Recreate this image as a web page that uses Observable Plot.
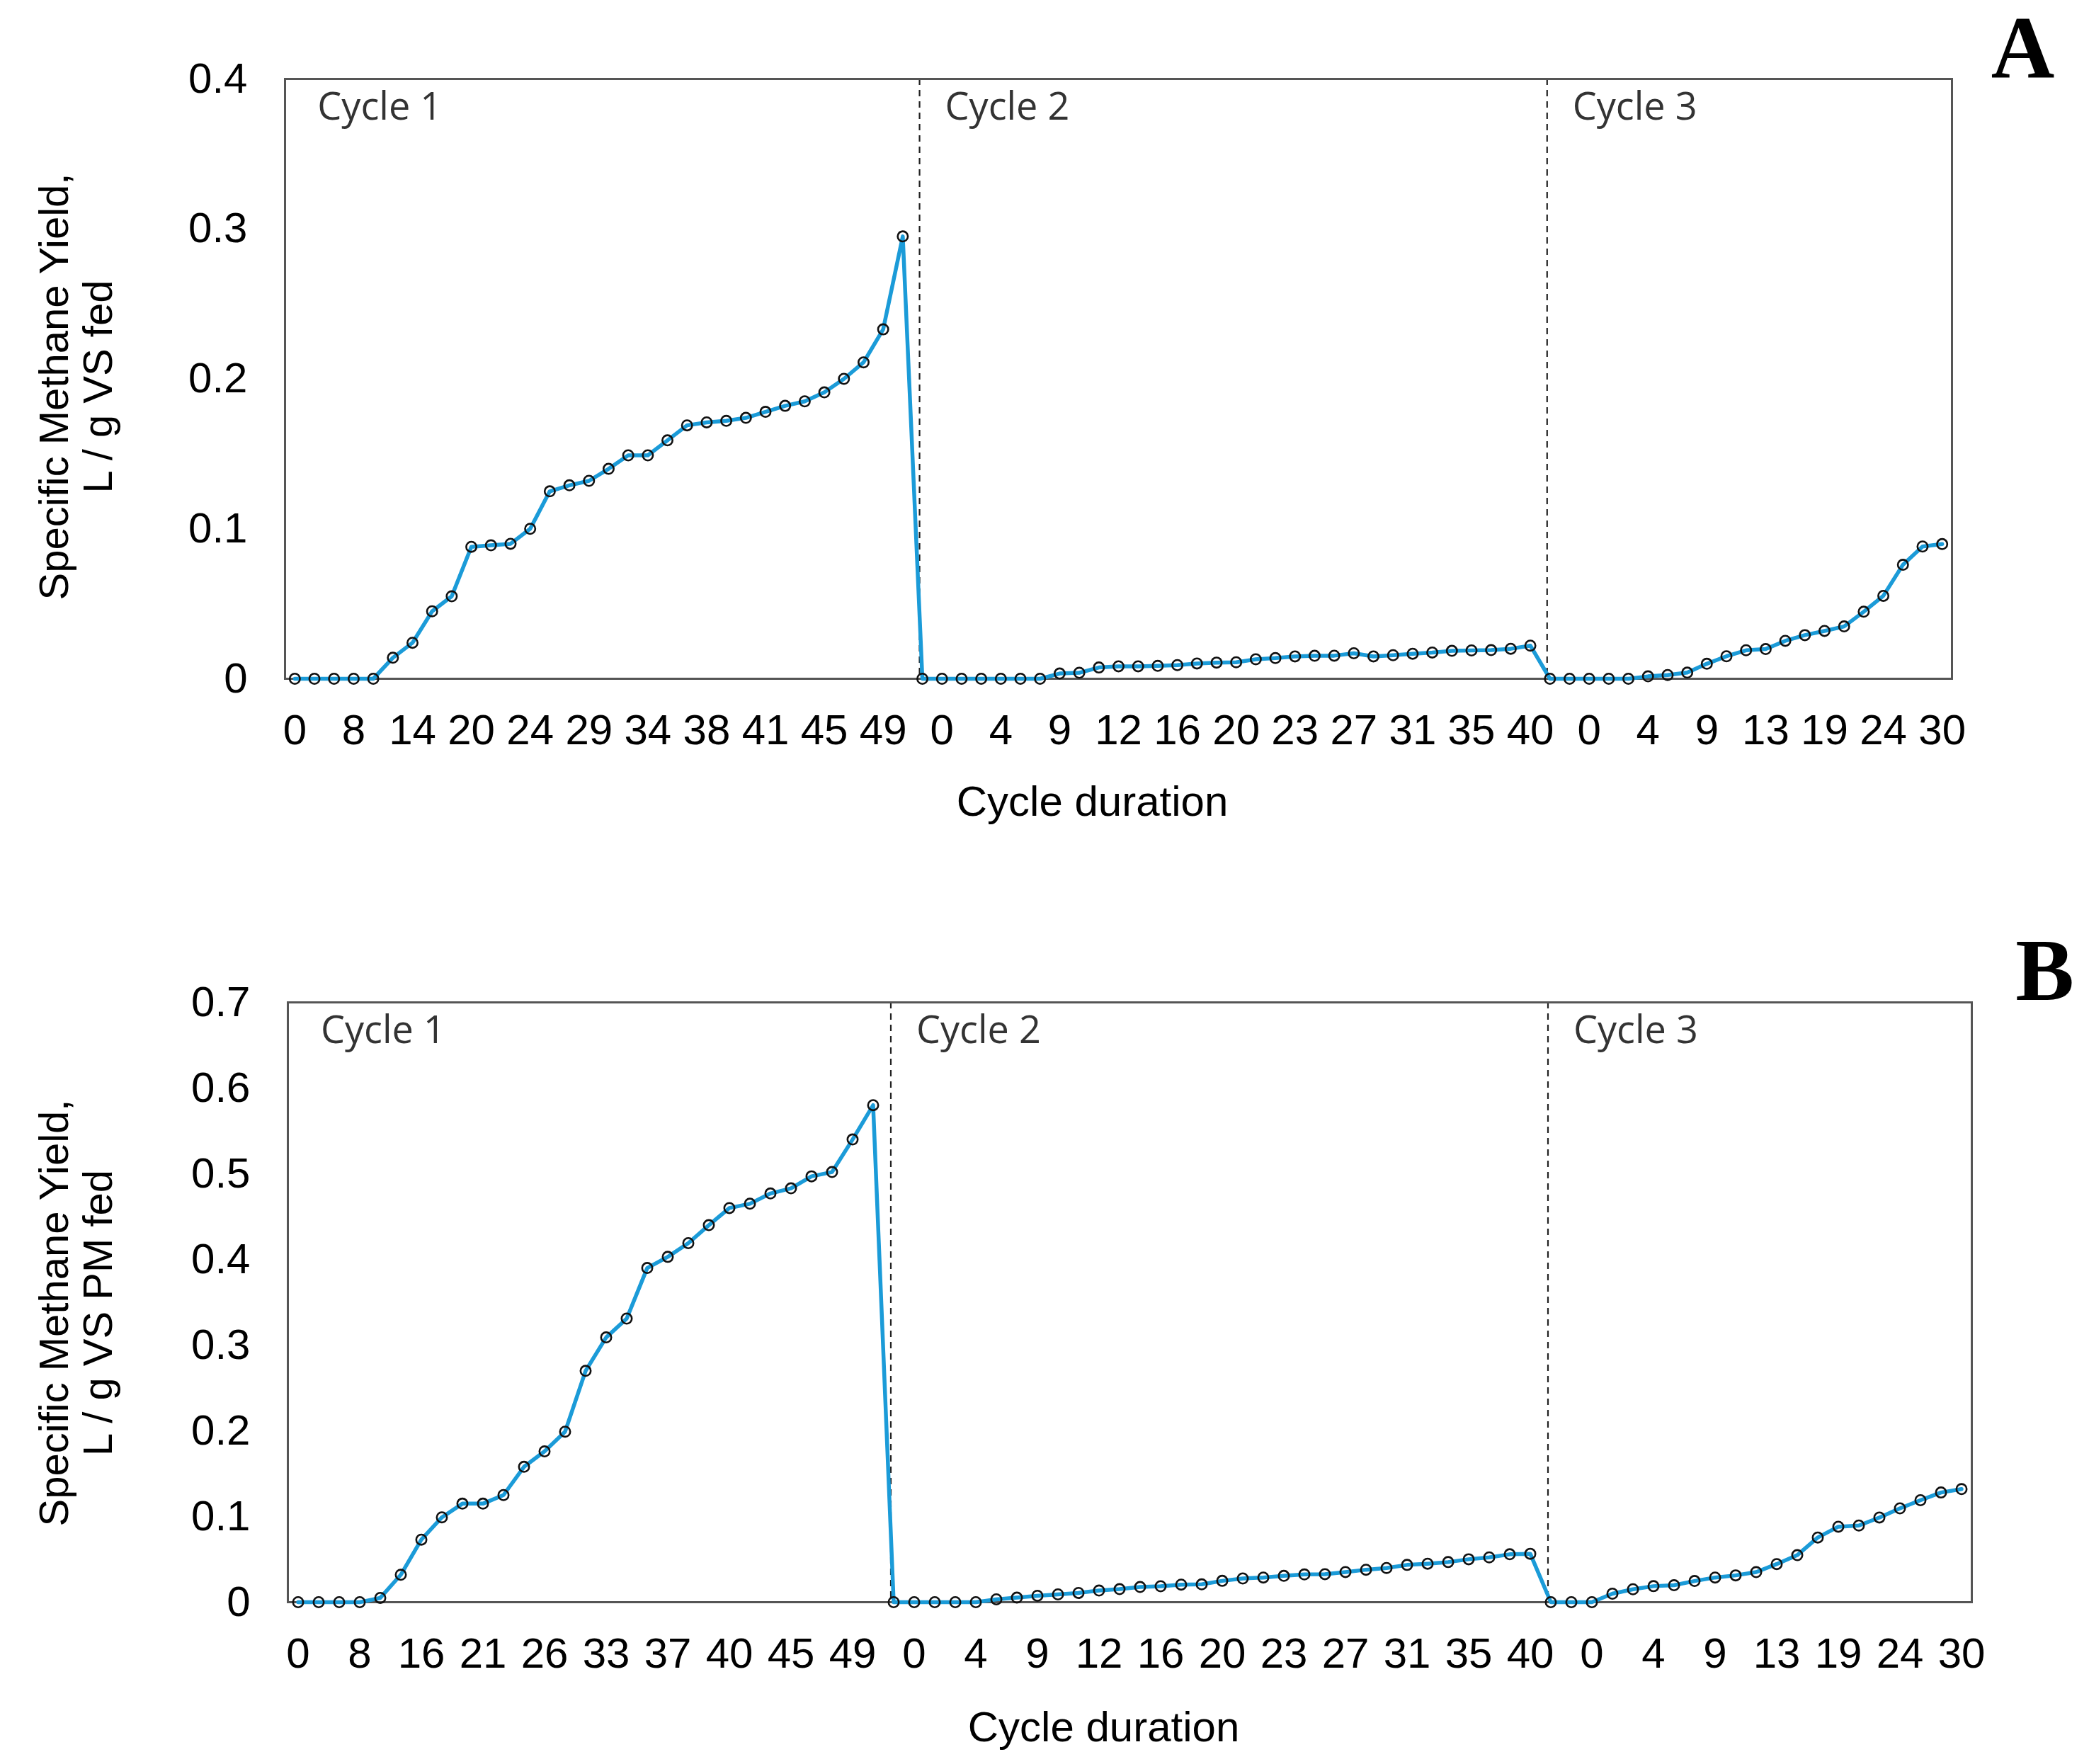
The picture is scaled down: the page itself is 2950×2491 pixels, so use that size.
<!DOCTYPE html>
<html><head><meta charset="utf-8">
<script src="https://cdn.jsdelivr.net/npm/d3@7"></script>
<script src="https://cdn.jsdelivr.net/npm/@observablehq/plot@0.6"></script>
<style>
body{margin:0;background:#fff;}
#wrap{position:relative;width:2950px;height:2491px;background:#fff;overflow:hidden;}
.panel{position:absolute;left:0;}
</style></head><body><div id="wrap"></div>
<script>
// ---------- Panel A data (L / g VS fed) ----------
const cycleNames = ["Cycle 1", "Cycle 2", "Cycle 3"];
const a1 = [0,0,0,0,0,0.014,0.024,0.045,0.055,0.088,0.089,0.090,0.100,0.125,0.129,0.132,0.140,0.149,0.149,0.159,0.169,0.171,0.172,0.174,0.178,0.182,0.185,0.191,0.200,0.211,0.233,0.295];
const a2 = [0,0,0,0,0,0,0,0.0035,0.004,0.0075,0.0083,0.0083,0.0086,0.0091,0.0102,0.0108,0.011,0.013,0.0138,0.0149,0.0153,0.0154,0.017,0.0149,0.0157,0.0167,0.0175,0.0186,0.0189,0.0191,0.020,0.0221];
const a3 = [0,0,0,0,0,0.0016,0.0025,0.0041,0.010,0.015,0.019,0.0198,0.0253,0.0291,0.0319,0.0349,0.0447,0.0553,0.076,0.0882,0.0898];
const ticksA1 = ["0","8","14","20","24","29","34","38","41","45","49"];
const ticksA2 = ["0","4","9","12","16","20","23","27","31","35","40"];
const ticksA3 = ["0","4","9","13","19","24","30"];
const yTicksA = [0, 0.1, 0.2, 0.3, 0.4];

// ---------- Panel B data (L / g VS PM fed) ----------
const b1 = [0,0,0,0,0.005,0.032,0.073,0.099,0.115,0.115,0.125,0.158,0.176,0.199,0.270,0.309,0.331,0.390,0.403,0.419,0.440,0.460,0.465,0.477,0.483,0.497,0.502,0.540,0.580];
const b2 = [0,0,0,0,0,0.0033,0.0053,0.0075,0.0091,0.0108,0.0136,0.0152,0.0177,0.0186,0.0205,0.0208,0.0249,0.0277,0.0288,0.0307,0.0324,0.0327,0.0352,0.0379,0.0399,0.0435,0.0449,0.0468,0.0501,0.0523,0.0559,0.0565];
const b3 = [0,0,0,0.0099,0.0151,0.0187,0.0198,0.0247,0.0288,0.0313,0.0351,0.0445,0.0549,0.0755,0.0881,0.0895,0.0988,0.1095,0.119,0.128,0.132];
const ticksB1 = ["0","8","16","21","26","33","37","40","45","49"];
const ticksB2 = ["0","4","9","12","16","20","23","27","31","35","40"];
const ticksB3 = ["0","4","9","13","19","24","30"];
const yTicksB = [0, 0.1, 0.2, 0.3, 0.4, 0.5, 0.6, 0.7];

const titleA = "Specific Methane Yield,\nL / g VS fed";
const titleB = "Specific Methane Yield,\nL / g VS PM fed";
const xTitle = "Cycle duration";

const LABEL_EVERY = 3;

function makePanel(o) {
  const cyc = o.cycles;
  const rows = cyc.flat().map((v, i) => ({i, v}));
  const starts = [];
  let acc = 0;
  for (const c of cyc) { starts.push(acc); acc += c.length; }
  const labels = o.tickLabels.flat();
  const tickIdx = labels.map((_, k) => k * LABEL_EVERY);
  const yTicks = o.yTicks;
  const sans = "'Liberation Sans', Arial, sans-serif";
  const narrow = "'Liberation Sans Narrow', 'Liberation Sans', Arial, sans-serif";
  return Plot.plot({
    width: 2950,
    height: o.height,
    marginLeft: o.ml, marginRight: o.mr, marginTop: o.mt, marginBottom: o.mb,
    style: {fontFamily: sans, background: "white", color: "black"},
    x: {domain: [-0.5, rows.length - 0.5]},
    y: {domain: [0, yTicks[yTicks.length - 1]]},
    marks: [
      Plot.ruleX(starts.slice(1), {stroke: "#222", strokeWidth: 2.2, strokeDasharray: "9,7", dx: -4}),
      Plot.frame({stroke: "#555", strokeWidth: 3}),
      Plot.line(rows, {x: "i", y: "v", stroke: "#1b9bd8", strokeWidth: 5.5}),
      Plot.dot(rows, {x: "i", y: "v", r: 7.2, stroke: "#111", strokeWidth: 2.6, fill: "none"}),
      Plot.axisX({ticks: tickIdx, tickFormat: d => labels[Math.round(d / LABEL_EVERY)], tickSize: 0, tickPadding: 50, fontSize: 60, fontFamily: narrow, fill: "black", label: null}),
      Plot.axisY({ticks: yTicks, tickFormat: d => String(d), tickSize: 0, tickPadding: 53, fontSize: 60, fill: "black", label: null}),
      Plot.text(starts, {x: d => d, text: (d, k) => cycleNames[k], frameAnchor: "top", textAnchor: "start", lineAnchor: "top", dx: 32, dy: 19, fontSize: 54, fontFamily: "'Open Sans', sans-serif", fill: "#333"}),
      Plot.text([o.yTitle], {text: d => d, frameAnchor: "left", textAnchor: "middle", lineAnchor: "middle", rotate: -90, dx: o.yTitleDx, dy: o.yTitleDy, fontSize: 58, lineHeight: 1.07, fill: "black"}),
      Plot.text([xTitle], {text: d => d, frameAnchor: "bottom", textAnchor: "middle", lineAnchor: "top", dy: o.xTitleDy, dx: -37, fontSize: 60, fill: "black"}),
      Plot.text([o.letter], {text: d => d, frameAnchor: "top-right", textAnchor: "middle", lineAnchor: "bottom", dx: o.letterDx, dy: o.letterDy, fontSize: 124, fontWeight: "bold", fontFamily: "'Liberation Serif', 'Times New Roman', serif", fill: "black"})
    ]
  });
}

const wrap = document.getElementById("wrap");
const pA = makePanel({cycles: [a1, a2, a3], tickLabels: [ticksA1, ticksA2, ticksA3], yTicks: yTicksA, yTitle: titleA, letter: "A",
  height: 1240, ml: 402, mr: 194, mt: 111, mb: 282, yTitleDx: -295, yTitleDy: 11, xTitleDy: 151, letterDx: 100, letterDy: -3});
pA.classList.add("panel"); pA.style.top = "0px";
wrap.appendChild(pA);
const pB = makePanel({cycles: [b1, b2, b3], tickLabels: [ticksB1, ticksB2, ticksB3], yTicks: yTicksB, yTitle: titleB, letter: "B",
  height: 1195, ml: 406, mr: 166, mt: 119, mb: 229, yTitleDx: -299, yTitleDy: 15, xTitleDy: 154, letterDx: 103, letterDy: -4});
pB.classList.add("panel"); pB.style.top = "1296px";
wrap.appendChild(pB);
</script>
</body></html>
